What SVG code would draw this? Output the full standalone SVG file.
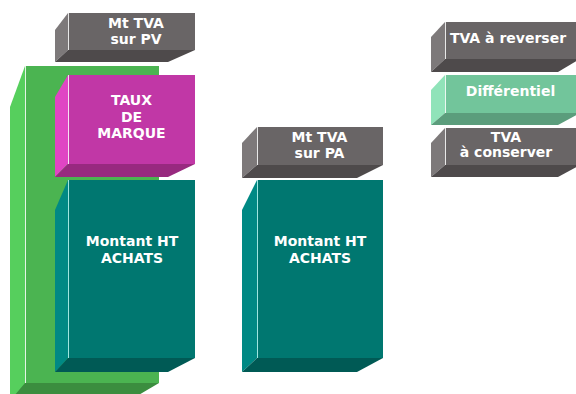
<svg xmlns="http://www.w3.org/2000/svg" width="576" height="394" viewBox="0 0 576 394">
<style>
text{font-family:"DejaVu Sans",Verdana,sans-serif;font-weight:bold;font-size:14px;fill:#fff;text-anchor:middle}
.gf{fill:#696566}.gs{fill:#7d797a}.gb{fill:#4e4a4b}
.nf{fill:#4bb451}.ns{fill:#56cf5d}.nb{fill:#3b8d3f}
.mf{fill:#c137a6}.ms{fill:#e045c4}.mb{fill:#98297f}
.tf{fill:#007770}.ts{fill:#008984}.tb{fill:#005a55}
.df{fill:#72c59b}.ds{fill:#90e3b9}.db{fill:#5b9d7c}
.hl{stroke:#fff;stroke-width:1;stroke-opacity:0.85}
.hlt{stroke:#9fe6e0;stroke-width:1}
</style>
<rect width="576" height="394" fill="#fff"/>
<g id="green">
<polygon class="ns" points="10,107 25,66 25,400 10,400"/>
<rect class="nf" x="25" y="66" width="134" height="317"/>
<polygon class="nb" points="25,383 159,383 137,396 14,396"/>
<line class="hl" x1="25.5" y1="66" x2="25.5" y2="383"/>
</g>
<g id="mt-tva-pv">
<polygon class="gs" points="55,30 68,13 68,50 55,62"/>
<rect class="gf" x="68" y="13" width="127" height="37"/>
<polygon class="gb" points="55,62 68,50 195,50 168,62"/>
<line class="hl" x1="68.5" y1="13" x2="68.5" y2="50"/>
<text x="136" y="28">Mt TVA</text>
<text x="136" y="44">sur PV</text>
</g>
<g id="taux">
<polygon class="ms" points="55,97 68,75 68,164 55,177"/>
<rect class="mf" x="68" y="75" width="127" height="89"/>
<polygon class="mb" points="55,177 68,164 195,164 168,177"/>
<line class="hl" x1="68.5" y1="75" x2="68.5" y2="164"/>
<text x="131.5" y="105">TAUX</text>
<text x="131.5" y="121.5">DE</text>
<text x="131.5" y="138">MARQUE</text>
</g>
<g id="achats-left">
<polygon class="ts" points="55,210 68,180 68,358 55,372"/>
<rect class="tf" x="68" y="180" width="127" height="178"/>
<polygon class="tb" points="55,372 68,358 195,358 168,372"/>
<line class="hlt" x1="68.5" y1="180" x2="68.5" y2="358"/>
<text x="132" y="246">Montant HT</text>
<text x="132" y="262.5">ACHATS</text>
</g>
<g id="mt-tva-pa">
<polygon class="gs" points="242,143 257,127 257,165 242,178"/>
<rect class="gf" x="257" y="127" width="126" height="38"/>
<polygon class="gb" points="242,178 257,165 383,165 357,178"/>
<line class="hl" x1="257.5" y1="127" x2="257.5" y2="165"/>
<text x="319.5" y="141.7">Mt TVA</text>
<text x="319.5" y="158">sur PA</text>
</g>
<g id="achats-right">
<polygon class="ts" points="242,210 257,180 257,358 242,372"/>
<rect class="tf" x="257" y="180" width="126" height="178"/>
<polygon class="tb" points="242,372 257,358 383,358 357,372"/>
<line class="hlt" x1="257.5" y1="180" x2="257.5" y2="358"/>
<text x="320" y="245.5">Montant HT</text>
<text x="320" y="262.5">ACHATS</text>
</g>
<g id="tva-reverser">
<polygon class="gs" points="431,37 445,22 445,59 431,72"/>
<rect class="gf" x="445" y="22" width="135" height="37"/>
<polygon class="gb" points="431,72 445,59 580,59 558,72"/>
<line class="hl" x1="445.5" y1="22" x2="445.5" y2="59"/>
<text x="508" y="43">TVA à reverser</text>
</g>
<g id="differentiel">
<polygon class="ds" points="431,90 445,75 445,113 431,125"/>
<rect class="df" x="445" y="75" width="135" height="38"/>
<polygon class="db" points="431,125 445,113 580,113 558,125"/>
<line class="hl" x1="445.5" y1="75" x2="445.5" y2="113"/>
<text x="510.5" y="96">Différentiel</text>
</g>
<g id="tva-conserver">
<polygon class="gs" points="431,143 445,128 445,165 431,177"/>
<rect class="gf" x="445" y="128" width="135" height="37"/>
<polygon class="gb" points="431,177 445,165 580,165 558,177"/>
<line class="hl" x1="445.5" y1="128" x2="445.5" y2="165"/>
<text x="506" y="141.7">TVA</text>
<text x="506" y="157.3">à conserver</text>
</g>
<g id="connectors"/>
</svg>
